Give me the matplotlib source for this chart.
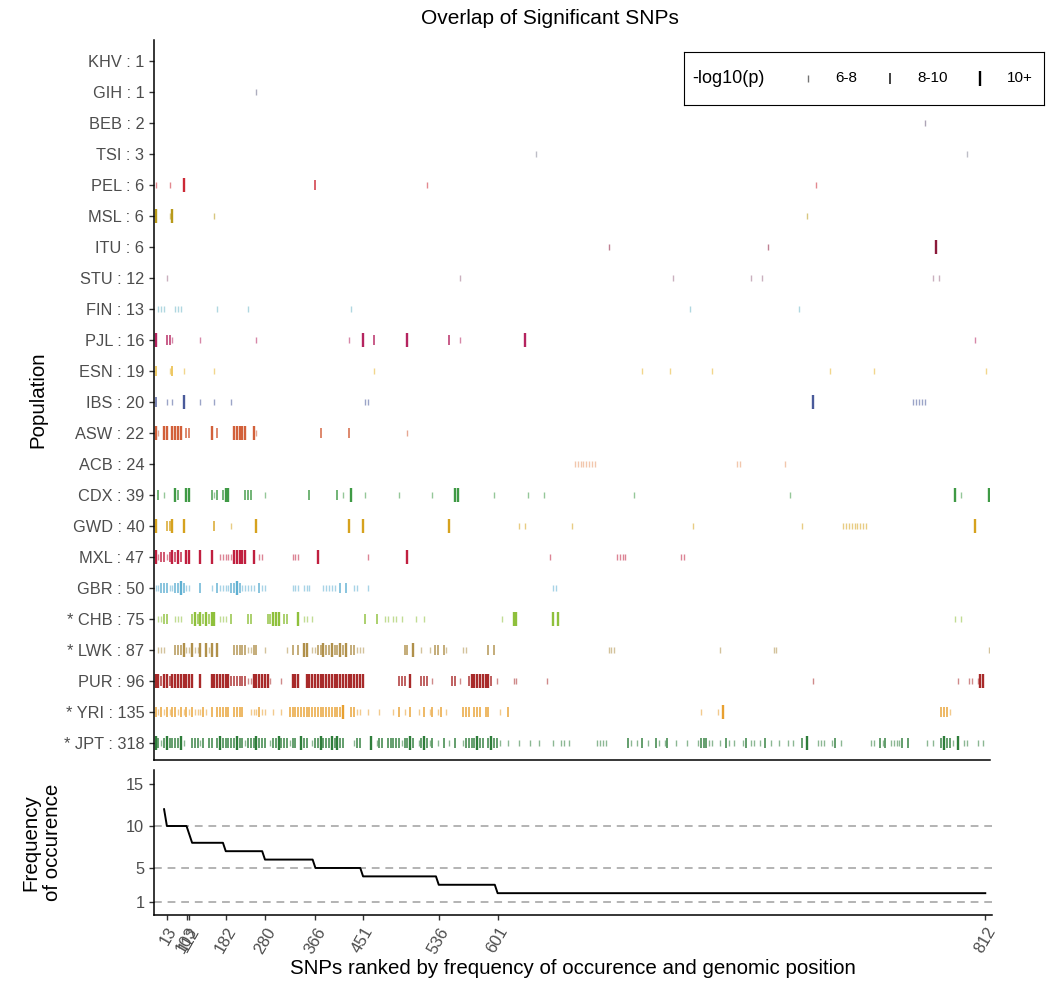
import matplotlib
matplotlib.use('Agg')
import matplotlib.pyplot as plt

plt.rcParams['font.family'] = ['Liberation Sans', 'DejaVu Sans']

# populations from top row to bottom row, with total significant SNP counts
populations = ['KHV', 'GIH', 'BEB', 'TSI', 'PEL', 'MSL', 'ITU', 'STU', 'FIN', 'PJL', 'ESN', 'IBS',
               'ASW', 'ACB', 'CDX', 'GWD', 'MXL', 'GBR', 'CHB', 'LWK', 'PUR', 'YRI', 'JPT']
snp_counts = [1, 1, 2, 3, 6, 6, 6, 12, 13, 16, 19, 20, 22, 24, 39, 40, 47, 50, 75, 87, 96, 135, 318]
starred = ['CHB', 'LWK', 'YRI', 'JPT']
pop_colors = ['#6b6b8a', '#6b6b8a', '#6a5a7a', '#8a8a9a', '#cc2936', '#b89a1a', '#8b1a3a', '#a0708a',
              '#6fb7c7', '#b5245f', '#e8b52e', '#4a5a9a', '#d2603a', '#e89a6a', '#3f9a45', '#d6a21e',
              '#c01f3f', '#5fb0d2', '#8fc03c', '#b0904a', '#a82a2a', '#e8a030', '#2e7d3a']

# SNP ranks per population, split by -log10(p) bin (lo: 6-8, mid: 8-10, hi: 10+)
# a tuple (a, b) stands for the run of ranks a..b
khv_lo, khv_mid, khv_hi = [], [], []
gih_lo, gih_mid, gih_hi = [37], [], []
beb_lo, beb_mid, beb_hi = [276], [], []
tsi_lo, tsi_mid, tsi_hi = [137, 291], [], []
pel_lo, pel_mid, pel_hi = [1, 6, 98, 237], [58], [11]
msl_lo, msl_mid, msl_hi = [6, 22, 234], [], [1, 7]
itu_lo, itu_mid, itu_hi = [163, 220], [], [280]
stu_lo, stu_mid, stu_hi = [5, 110, 186, 214, 218, 279, 281], [], []
fin_lo, fin_mid, fin_hi = [2, 3, 4, 8, 9, 10, 23, 34, 71, 192, 231], [], []
pjl_lo = [7, 17, 37, 70, 110, 294]
pjl_mid = [5, 6, 79, 106]
pjl_hi = [1, 75, 91, 133]
esn_lo = [6, 11, 22, 79, 175, 185, 200, 242, 258, 298]
esn_mid = [1, 7]
esn_hi = []
ibs_lo = [5, 7, 17, 22, 28, 76, 77, (272, 276)]
ibs_mid = [1]
ibs_hi = [11, 236]
asw_lo = [2, 37, 91]
asw_mid = [12, 13, 23, 60, 70]
asw_hi = [1, 4, 5, (7, 10), 21, (29, 33), 36]
acb_lo = [(151, 158), 209, 210, 226]
acb_mid, acb_hi = [], []
cdx_lo = [4, 22, 40, 68, 76, 88, 100, 122, 134, 140, 172, 228, 289]
cdx_mid = [2, 9, 21, 23, 25, 33, 34, 35, 56, 66]
cdx_hi = [8, 12, 13, 26, 27, 71, 108, 109, 287, 299]
gwd_lo = [28, 131, 133, 150, 193, 232, (247, 255)]
gwd_mid = [5, 6, 22]
gwd_hi = [1, 7, 11, 37, 70, 75, 106, 294]
mxl_lo = [2, 5, (24, 28), 38, 39, 50, 51, 52, 77, 142, (166, 169), 189, 190]
mxl_mid = [3, 4, 6, 8, 10]
mxl_hi = [1, 7, 9, 12, 13, 17, 21, (29, 33), 36, 59, 91]
gbr_lo = [1, 2, 6, 7, 12, 13, 21, (24, 27), (32, 36), 39, 40, 50, 51, 52, 54, 55, 56,
          (61, 65), 72, 73, 77, 143, 144]
gbr_mid = [3, 4, 5, 8, 9, 11, 17, 23, 28, 29, 31, 38, 67, 69]
gbr_hi = [10, 30]
chb_lo = [2, 3, 8, 9, 10, 24, 25, 26, 54, 55, 57, 83, 84, 86, 87, 89, 94, 97, 125, 287, 289]
chb_mid = [4, 5, 14, 16, 18, 20, 28, 34, 35, 41, 42, 47, 48, 76, 80]
chb_hi = [15, 17, 19, 21, 22, 43, 44, 45, 52, 129, 130, 143, 145]
lwk_lo = [2, 3, 4, 12, 13, 15, 16, 20, 34, 35, 40, 48, 57, 58, 73, 74, 75, 96, 99, 105, 111, 112,
          163, 164, 165, 203, 222, 223, 299]
lwk_mid = [8, 9, 10, (29, 33), 36, 37, 50, 52, 59, 60, 62, 63, 65, 66, 68, 71, 72, 90, 91,
           101, 102, 104, 120, 122]
lwk_hi = [11, 14, 17, 19, 21, 23, 54, 55, 61, 64, 67, 69, 93]
pur_lo = [34, 35, 42, 46, 100, 110, 123, 129, 130, 141, 236, 288, 292, 293, 295]
pur_mid = [3, 6, (28, 33), 88, 89, 90, 96, 97, 98, 107, 108, 113, 121]
pur_hi = [1, 2, 4, 5, (7, 14), 17, (21, 27), (36, 41), 50, 51, 52, (55, 75), 92, (114, 120),
          296, 297]
yri_lo = [2, 4, 6, 9, 11, 13, 15, 16, 17, 19, 35, 36, 37, 39, 40, 43, 46, 73, 74, 77, 81, 86,
          90, 95, 99, 102, 105, 124, 196, 202, 285]
yri_mid = [1, 3, 5, 7, 8, 10, 12, 14, 18, 21, (23, 27), (29, 32), 38, (49, 67), 71, 72, 88, 92,
           97, 100, 103, (111, 113), (115, 117), 119, 120, 127, 282, 283, 284]
yri_hi = [68, 204]
jpt_lo = [3, 11, 17, 33, 42, 49, 57, 72, 80, 89, 95, 99, 102, 106, 111, 124, 127, 131, 135, 138,
          143, 146, 147, 149, (159, 162), 171, 173, 177, 181, 183, 187, 191, 195, 199, 200, 203,
          206, 208, 211, 214, 215, 217, 221, 224, 227, 229, (238, 240), 243, 246, 257, 258, 261,
          (264, 267), 277, 279, 286, 290, 291, 295, 297]
jpt_mid = [2, 4, (6, 9), (14, 16), 18, 20, 21, 23, (25, 29), 31, 32, (34, 36), (38, 40), 43, 44,
           (46, 48), 50, 51, 54, 55, 58, 59, (61, 63), 65, 67, 68, 73, 74, 81, 82, (84, 88), 90, 91,
           93, 96, 98, 100, 104, 108, (112, 115), 117, 118, 120, 122, 123, 170, 175, 180, 184,
           (196, 198), 205, 212, 219, 232, 244, 260, 262, 268, 270, 282, 284, 285]
jpt_hi = [1, 5, 10, 24, 30, 37, 45, 53, 60, 64, 66, 78, 92, 97, 116, 121, 234, 283, 288]

# number of populations sharing each ranked SNP
freq_rank = [4, 5, 12, 14, 25, 26, 39, 40, 57, 58, 74, 75, 101, 102, 122, 123, 297]
freq_value = [12, 10, 10, 8, 8, 7, 7, 6, 6, 5, 5, 4, 4, 3, 3, 2, 2]
freq_ticks = [5, 12, 13, 26, 40, 58, 75, 102, 123, 297]
freq_tick_labels = ['13', '103', '112', '182', '280', '366', '451', '536', '601', '812']

bin_labels = ['6-8', '8-10', '10+']
bin_height = [0.22, 0.33, 0.46]
bin_width = [1.0, 1.3, 1.7]
bin_alpha = [0.55, 0.8, 1.0]

snps = {
    'KHV': (khv_lo, khv_mid, khv_hi), 'GIH': (gih_lo, gih_mid, gih_hi),
    'BEB': (beb_lo, beb_mid, beb_hi), 'TSI': (tsi_lo, tsi_mid, tsi_hi),
    'PEL': (pel_lo, pel_mid, pel_hi), 'MSL': (msl_lo, msl_mid, msl_hi),
    'ITU': (itu_lo, itu_mid, itu_hi), 'STU': (stu_lo, stu_mid, stu_hi),
    'FIN': (fin_lo, fin_mid, fin_hi), 'PJL': (pjl_lo, pjl_mid, pjl_hi),
    'ESN': (esn_lo, esn_mid, esn_hi), 'IBS': (ibs_lo, ibs_mid, ibs_hi),
    'ASW': (asw_lo, asw_mid, asw_hi), 'ACB': (acb_lo, acb_mid, acb_hi),
    'CDX': (cdx_lo, cdx_mid, cdx_hi), 'GWD': (gwd_lo, gwd_mid, gwd_hi),
    'MXL': (mxl_lo, mxl_mid, mxl_hi), 'GBR': (gbr_lo, gbr_mid, gbr_hi),
    'CHB': (chb_lo, chb_mid, chb_hi), 'LWK': (lwk_lo, lwk_mid, lwk_hi),
    'PUR': (pur_lo, pur_mid, pur_hi), 'YRI': (yri_lo, yri_mid, yri_hi),
    'JPT': (jpt_lo, jpt_mid, jpt_hi),
}


def expand(ranks):
    out = []
    for r in ranks:
        if isinstance(r, tuple):
            out.extend(range(r[0], r[1] + 1))
        else:
            out.append(r)
    return out


text_col = '#4d4d4d'
W, H = 1051, 986
fig = plt.figure(figsize=(W / 100, H / 100), dpi=100)
x_range = (0.4, 299.4)

# top panel: one row of ticks per population
ax = fig.add_axes([154 / W, 1 - 760 / H, 836 / W, 720 / H])
n = len(populations)
for i, pop in enumerate(populations):
    y = n - i
    for b, ranks in enumerate(snps[pop]):
        xs = expand(ranks)
        if xs:
            ax.vlines(xs, y - bin_height[b] / 2, y + bin_height[b] / 2, colors=pop_colors[i],
                      alpha=bin_alpha[b], linewidth=bin_width[b])

ylabels = [('* ' if p in starred else '') + f'{p} : {c}' for p, c in zip(populations, snp_counts)]
ax.set_yticks([n - i for i in range(n)], ylabels)
ax.set_ylim(0.45, n + 0.68)
ax.set_xlim(*x_range)
ax.set_xticks([])
ax.set_ylabel('Population', fontsize=14.8, labelpad=12)
for s in ['top', 'right']:
    ax.spines[s].set_visible(False)
for s in ['left', 'bottom']:
    ax.spines[s].set_linewidth(1.1)
ax.tick_params(axis='y', labelsize=11.8, labelcolor=text_col, length=3.5, width=1, color='#333333')

# bottom panel: frequency of occurrence
ax2 = fig.add_axes([154 / W, 1 - 915 / H, 838 / W, 145 / H])
for g in [1, 5, 10]:
    ax2.axhline(g, color='#b3b3b3', linewidth=1.4, linestyle=(0, (4, 3)), zorder=1)
ax2.plot(freq_rank, freq_value, color='black', linewidth=1.4, zorder=2)
ax2.set_xlim(*x_range)
ax2.set_ylim(-0.6, 16.67)
ax2.set_yticks([1, 5, 10, 15])
ax2.set_xticks(freq_ticks, freq_tick_labels, rotation=60, ha='right', rotation_mode='anchor')
ax2.set_ylabel('Frequency\nof occurence', fontsize=14.8, labelpad=46)
ax2.set_xlabel('SNPs ranked by frequency of occurence and genomic position', fontsize=14.8,
               labelpad=2)
for s in ['top', 'right']:
    ax2.spines[s].set_visible(False)
for s in ['left', 'bottom']:
    ax2.spines[s].set_linewidth(1.1)
ax2.tick_params(labelsize=11.8, labelcolor=text_col, length=3.5, width=1, color='#333333')

fig.text(550 / W, 1 - 18 / H, 'Overlap of Significant SNPs', fontsize=15, ha='center', va='center')

# legend box for the -log10(p) bins
lax = fig.add_axes([684 / W, 1 - 105 / H, 360 / W, 53 / H])
lax.set_xlim(0, 360)
lax.set_ylim(0, 53)
lax.set_xticks([])
lax.set_yticks([])
for s in lax.spines.values():
    s.set_linewidth(0.8)
lax.text(8, 26.5, '-log10(p)', fontsize=13, va='center')
key_x = [124, 206, 296]
for b in range(3):
    h = bin_height[b] * 31
    lax.vlines(key_x[b], 26.5 - h / 2, 26.5 + h / 2, colors='black', alpha=bin_alpha[b],
               linewidth=bin_width[b])
    lax.text(key_x[b] + 27, 26.5, bin_labels[b], fontsize=11, va='center')

fig.savefig('out.png', dpi=100)
